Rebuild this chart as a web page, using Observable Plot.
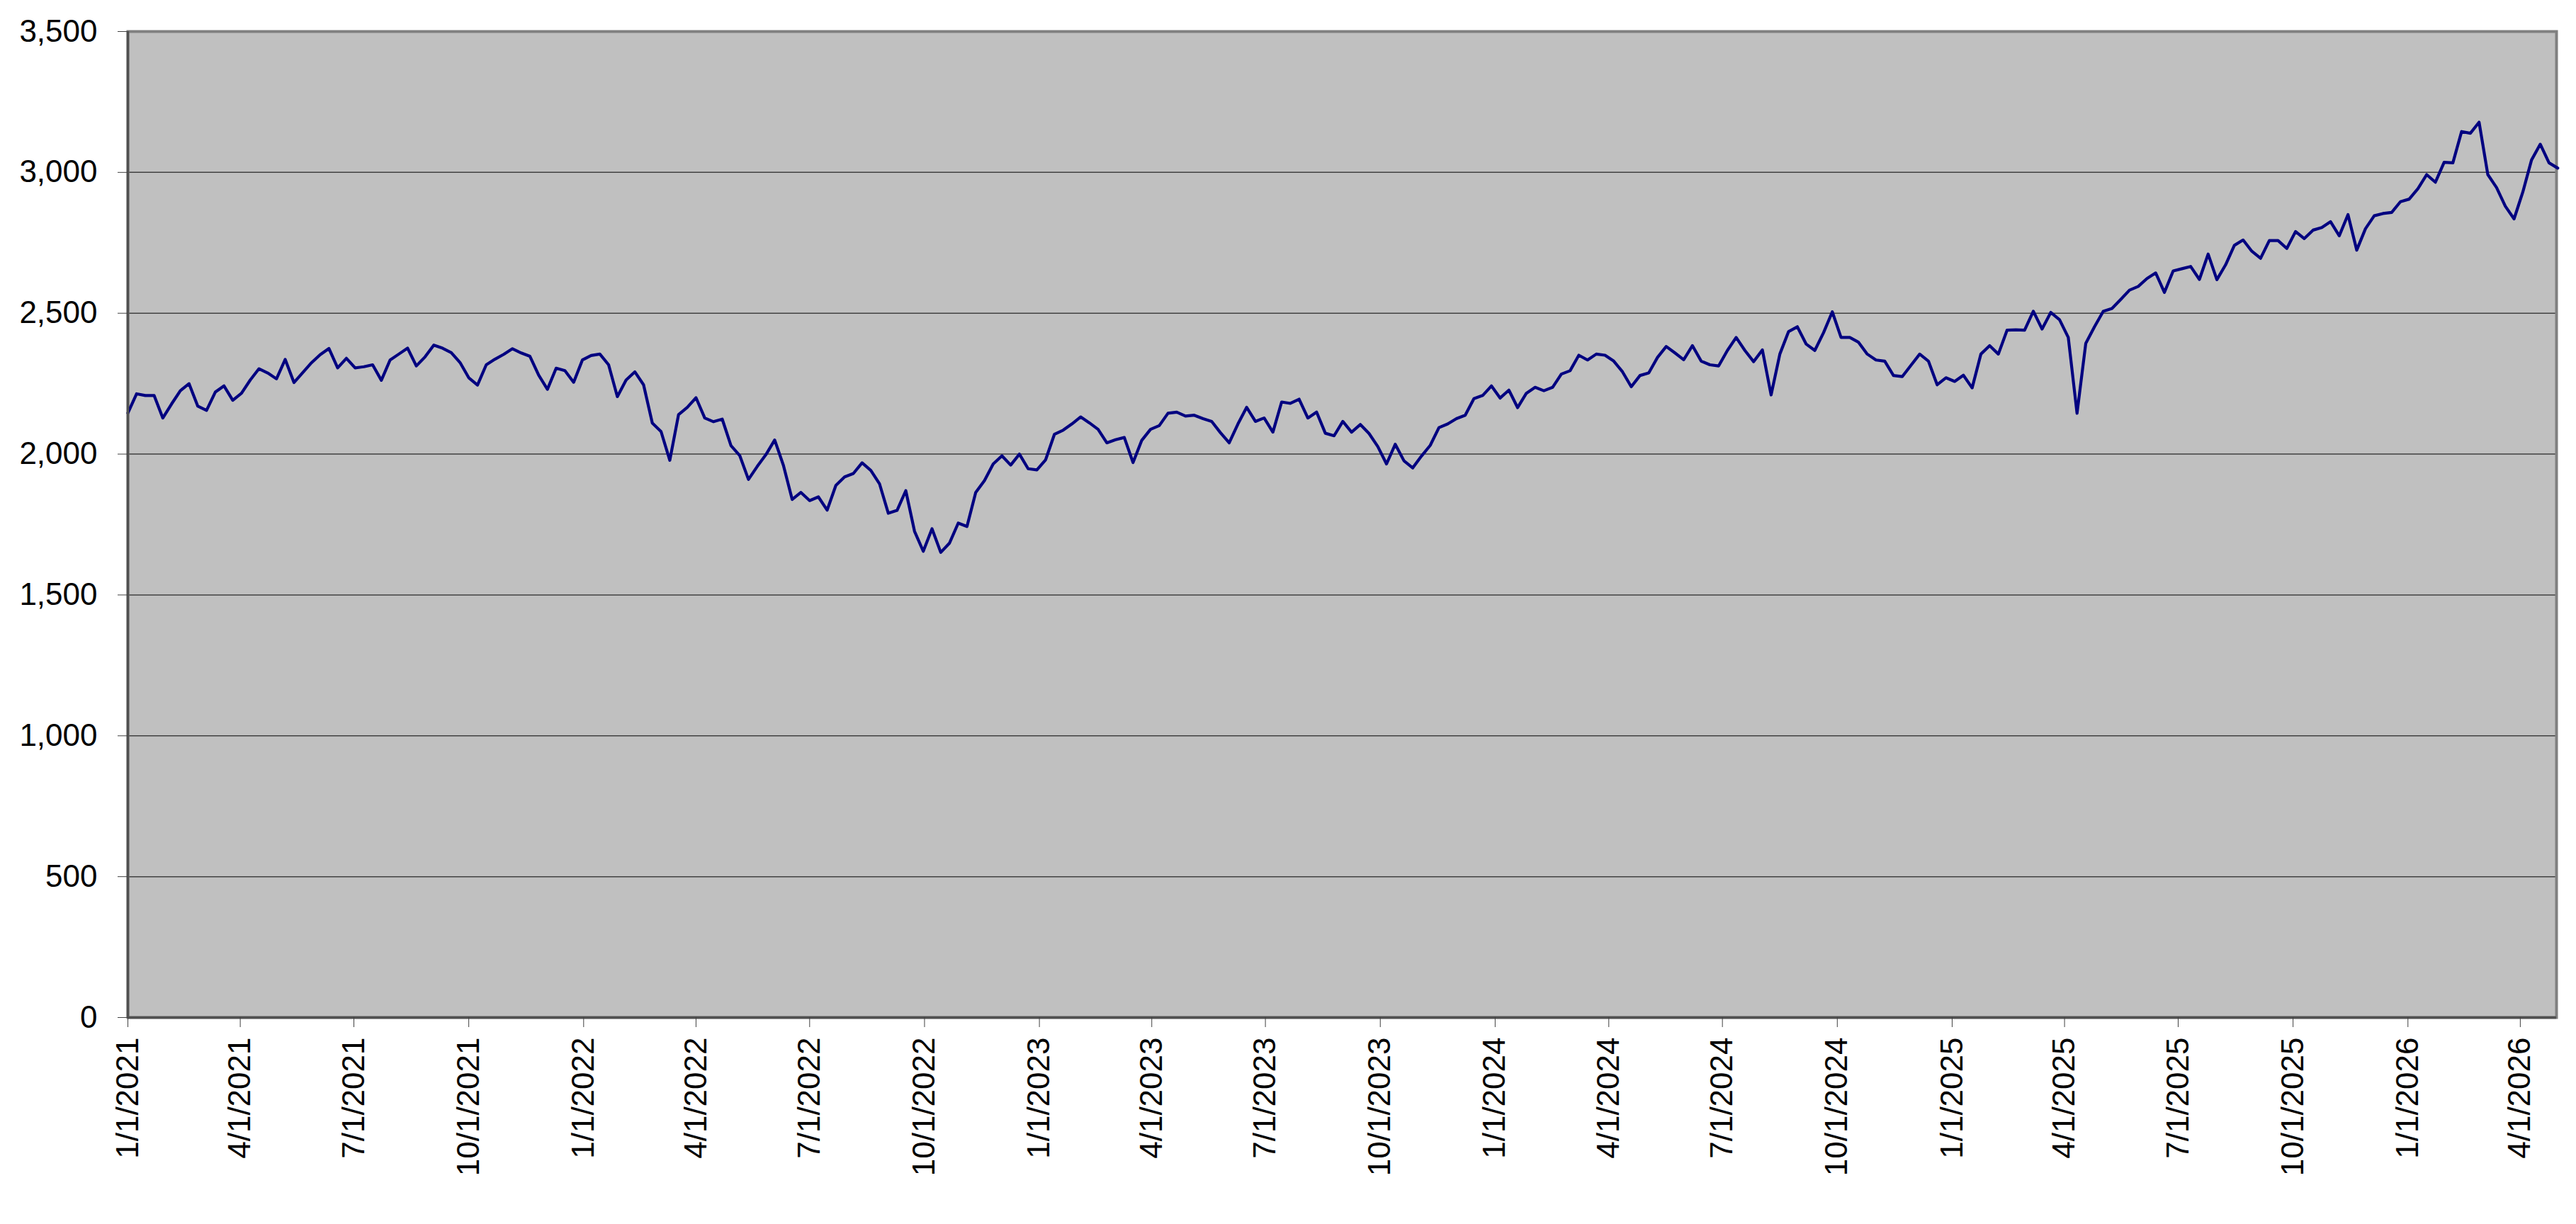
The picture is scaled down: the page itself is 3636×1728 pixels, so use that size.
<!DOCTYPE html>
<html><head><meta charset="utf-8">
<script src="https://cdn.jsdelivr.net/npm/d3@7"></script>
<script src="https://cdn.jsdelivr.net/npm/@observablehq/plot@0.6"></script>
<style>html,body{margin:0;padding:0;background:#fff} svg{display:block}</style>
</head><body><div id="chart"></div>
<script>
// Weekly series, first observation 1/1/2021, one value every 7 days
const startDate = "2021-01-01";
const stepDays = 7;
const values = [
2146,2214,2208,2208,2128,2178,2225,2250,2170,2155,
2220,2242,2191,2216,2263,2303,2288,2267,2336,2254,
2289,2324,2353,2375,2306,2340,2306,2310,2317,2262,
2334,2355,2376,2313,2345,2387,2376,2360,2325,2271,
2245,2317,2337,2354,2374,2359,2347,2280,2230,2305,
2296,2255,2334,2350,2355,2317,2204,2263,2292,2246,
2110,2080,1978,2140,2166,2200,2128,2115,2124,2030,
1995,1910,1956,1998,2050,1960,1839,1864,1835,1848,
1801,1889,1919,1931,1969,1942,1894,1790,1800,1870,
1726,1655,1735,1651,1684,1755,1743,1864,1906,1965,
1994,1961,2000,1948,1944,1980,2070,2085,2107,2132,
2111,2088,2040,2051,2059,1970,2049,2088,2101,2145,
2149,2135,2138,2126,2116,2076,2040,2107,2166,2116,
2128,2078,2185,2180,2195,2128,2149,2074,2065,2116,
2078,2105,2073,2027,1965,2035,1976,1951,1993,2031,
2094,2107,2126,2138,2197,2208,2242,2199,2227,2165,
2216,2237,2225,2237,2284,2296,2351,2334,2355,2351,
2330,2292,2239,2279,2288,2343,2382,2359,2335,2385,
2330,2317,2313,2368,2414,2368,2328,2370,2210,2355,
2435,2452,2391,2368,2431,2505,2414,2414,2397,2355,
2334,2330,2279,2275,2315,2355,2330,2246,2271,2258,
2280,2235,2355,2385,2355,2440,2441,2440,2507,2444,
2503,2477,2414,2145,2393,2452,2507,2517,2549,2582,
2595,2623,2643,2574,2650,2658,2666,2620,2710,2619,
2672,2741,2760,2720,2695,2758,2758,2730,2790,2765,
2795,2804,2825,2775,2850,2724,2800,2846,2854,2858,
2896,2905,2942,2992,2965,3036,3034,3145,3139,3178,
2992,2946,2880,2835,2930,3044,3100,3034,3015
];
const yTicks = [0, 500, 1000, 1500, 2000, 2500, 3000, 3500];
const xTickLabels = [
"2021-01-01","2021-04-01","2021-07-01","2021-10-01",
"2022-01-01","2022-04-01","2022-07-01","2022-10-01",
"2023-01-01","2023-04-01","2023-07-01","2023-10-01",
"2024-01-01","2024-04-01","2024-07-01","2024-10-01",
"2025-01-01","2025-04-01","2025-07-01","2025-10-01",
"2026-01-01","2026-04-01"
];
const xDomain = ["2021-01-01", "2026-04-30"];

const toDate = s => new Date(s + "T00:00:00Z");
const start = toDate(startDate);
const data = values.map((v, i) => ({date: d3.utcDay.offset(start, i * stepDays), value: v}));

const chart = Plot.plot({
  width: 3636,
  height: 1728,
  marginLeft: 180,
  marginRight: 28,
  marginTop: 44,
  marginBottom: 292,
  style: {fontFamily: "'Liberation Sans', Arial, sans-serif", fontSize: "44px", color: "#000", background: "#fff"},
  x: {type: "utc", domain: xDomain.map(toDate)},
  y: {domain: [0, 3500]},
  marks: [
    Plot.frame({fill: "#C0C0C0"}),
    Plot.ruleY(yTicks.filter(t => t > 0 && t < 3500), {stroke: "#404040", strokeWidth: 1.5}),
    Plot.frame({stroke: "#808080", strokeWidth: 4}),
    Plot.lineY(data, {x: "date", y: "value", stroke: "#000080", strokeWidth: 4.2, strokeLinejoin: "round"}),
    Plot.ruleX([toDate(xDomain[0])], {stroke: "#505050", strokeWidth: 3.5}),
    Plot.ruleY([0], {stroke: "#505050", strokeWidth: 3.5}),
    Plot.axisY({ticks: yTicks, tickFormat: d3.format(","), tickSize: 14, tickPadding: 29, label: null, stroke: "#404040"}),
    Plot.axisX({ticks: xTickLabels.map(toDate), tickFormat: d3.utcFormat("%-m/%-d/%Y"), tickRotate: -90, tickSize: 14, tickPadding: 14, label: null, stroke: "#404040"})
  ]
});
document.getElementById("chart").appendChild(chart);
</script>
</body></html>
